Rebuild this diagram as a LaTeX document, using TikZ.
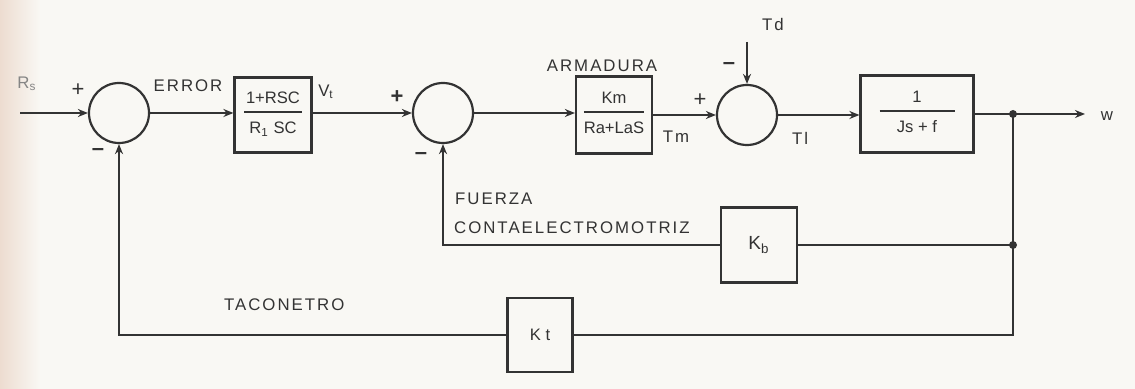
\documentclass[tikz,border=0pt]{standalone}
\usepackage{fontspec}
\setmainfont{Liberation Sans}
\usetikzlibrary{arrows.meta}
\definecolor{ink}{HTML}{333333}
\definecolor{paper}{HTML}{F9F8F4}
\definecolor{edge}{HTML}{EDDCD0}
\setlength{\arrayrulewidth}{0.7pt}
\newcommand\blkfrac[3]{\begin{tabular}{@{}c@{}}\makebox[#1]{#2}\\[1pt]\hline\rule{0pt}{10.5pt}#3\end{tabular}}
\begin{document}
\begin{tikzpicture}[x=0.5pt,y=-0.5pt,line width=1.1pt,draw=ink,text=ink,
  >={Stealth[length=5pt,width=4pt]},
  sumc/.style={circle,draw,minimum size=30pt,inner sep=0pt},
  blk/.style={draw,inner sep=0pt,align=center,font=\fontsize{8.3}{9.5}\selectfont},
  lbl/.style={inner sep=0pt,font=\fontsize{8.4}{10}\selectfont\addfontfeatures{LetterSpace=12}},
  sgn/.style={inner sep=0pt,font=\fontsize{11}{12}\selectfont},
  dot/.style={circle,fill=ink,inner sep=0pt,minimum size=4pt}]
\useasboundingbox (0,0) rectangle (1135,389);
\fill[paper] (0,0) rectangle (1135,389);
\shade[left color=edge,right color=paper,draw=none] (0,0) rectangle (40,389);
% summing junctions
\node[sumc] (s1) at (119,113) {};
\node[sumc] (s2) at (443,113) {};
\node[sumc] (s3) at (747,115) {};
% blocks
\node[blk,minimum width=38.5pt,minimum height=37.5pt] (b1) at (273,115) {\blkfrac{29pt}{1+RSC}{R\textsubscript{1} SC}};
\node[blk,minimum width=38pt,minimum height=38.5pt] (b2) at (614,115) {\blkfrac{27pt}{Km}{Ra+LaS}};
\node[blk,minimum width=56.5pt,minimum height=38.5pt] (b3) at (917,114) {\blkfrac{37.5pt}{1}{Js + f}};
\node[blk,minimum width=38pt,minimum height=37.5pt,font=\fontsize{9.5}{11}\selectfont] (kb) at (759,245) {K\textsubscript{b}};
\node[blk,minimum width=32.5pt,minimum height=37pt,font=\fontsize{8.3}{10}\selectfont] (kt) at (540,335) {K t};
% coordinates
\coordinate (in) at (20,113);
\coordinate (td) at (747,42);
\coordinate (br1) at (1013,114);
\coordinate (br2) at (1013,245);
\coordinate (br3) at (1013,335);
\coordinate (out) at (1085,114);
% forward path
\draw[->] (in) -- (s1.west);
\draw[->] (s1.east) -- (b1.west |- s1.east);
\draw[->] (b1.east |- s2.west) -- (s2.west);
\draw[->] (s2.east) -- (b2.west |- s2.east);
\draw[->] (b2.east |- s3.west) -- (s3.west);
\draw[->] (s3.east) -- (b3.west |- s3.east);
\draw[->] (td) -- (s3.north);
\draw[->] (b3.east) -- (out);
% feedback
\draw (br1) -- (br3) -- (kt.east);
\draw[->] (kt.west) -| (s1.south);
\draw (br2) -- (kb.east);
\draw[->] (kb.west) -| (s2.south);
\node[dot] at (br1) {};
\node[dot] at (br2) {};
% labels
\node[lbl,text=ink!60] (lin) at (27,84) {R\textsubscript{s}};
\node[sgn] (p1) at (78,90) {+};
\node[sgn] (m1) at (98,152) {\textbf{--}};
\node[lbl] (lerr) at (188,86) {ERROR};
\node[lbl] (lvt) at (326,92) {V\textsubscript{t}};
\node[sgn] (p2) at (397,97) {\textbf{+}};
\node[sgn] (m2) at (421,156) {\textbf{--}};
\node[lbl] (larm) at (602,66) {ARMADURA};
\node[lbl] (ltm) at (676,137) {Tm};
\node[sgn] (p3) at (700,100) {+};
\node[lbl] (ltd) at (773,25) {Td};
\node[sgn] (m3) at (729,66) {\textbf{--}};
\node[lbl] (ltl) at (800,138) {Tl};
\node[lbl] (lw) at (1107,116) {w};
\node[lbl,anchor=west] (lfu) at (454,199) {FUERZA};
\node[lbl,anchor=west] (lco) at (453,228) {CONTAELECTROMOTRIZ};
\node[lbl,anchor=west] (lta) at (223,305) {TACONETRO};
\end{tikzpicture}
\end{document}
